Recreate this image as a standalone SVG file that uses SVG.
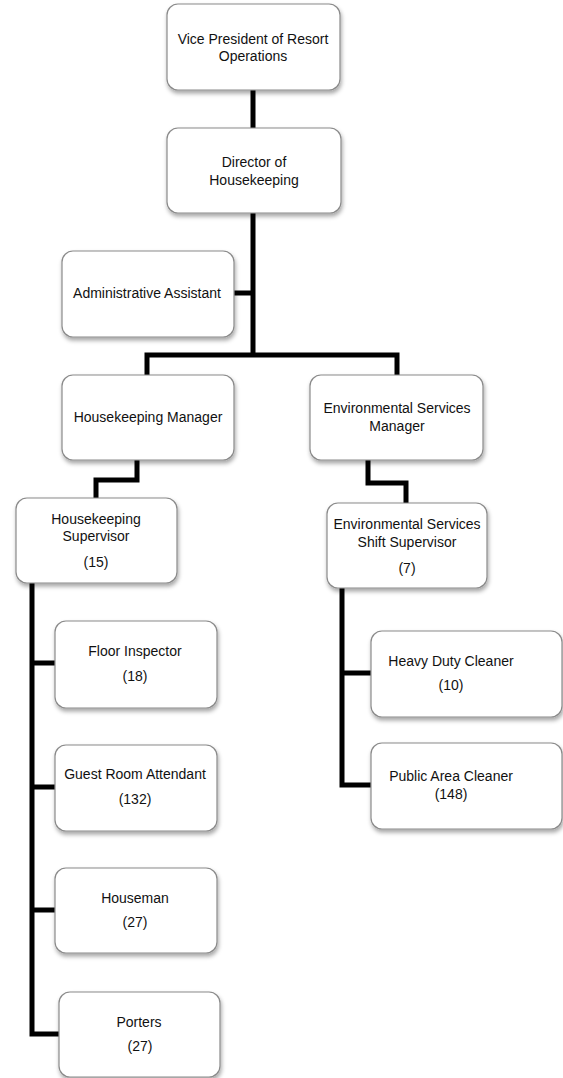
<svg xmlns="http://www.w3.org/2000/svg" width="563" height="1078" viewBox="0 0 563 1078">
<defs>
<filter id="sh" x="-10%" y="-10%" width="125%" height="130%">
<feDropShadow dx="1" dy="3" stdDeviation="2" flood-color="#000" flood-opacity="0.35"/>
</filter>
</defs>
<style>
.box{fill:#fff;stroke:#8a8a8a;stroke-width:1.2;filter:url(#sh)}
text{font-family:"Liberation Sans",Arial,sans-serif;font-size:14px;fill:#111;text-anchor:middle}
.c{fill:none;stroke:#000;stroke-width:5;stroke-linejoin:miter}
</style>
<rect width="563" height="1078" fill="#fff"/>
<g id="connectors">
<path class="c" d="M253 90 V128"/>
<path class="c" d="M253 213 V355"/>
<path class="c" d="M234 293 H253"/>
<path class="c" d="M147 375 V355 H397 V375"/>
<path class="c" d="M137 460 V480 H96 V498"/>
<path class="c" d="M368 460 V483 H406 V503"/>
<path class="c" d="M32 583 V1034 H59"/>
<path class="c" d="M32 663 H55 M32 787 H55 M32 910 H55"/>
<path class="c" d="M342 588 V785 H371 M342 673 H371"/>
</g>
<g id="vp"><rect class="box" x="167" y="4" width="173" height="86" rx="11"/><text x="253" y="44">Vice President of Resort</text><text x="253" y="61">Operations</text></g>
<g id="director"><rect class="box" x="167" y="128" width="174" height="85" rx="11"/><text x="254" y="167">Director of</text><text x="254" y="185">Housekeeping</text></g>
<g id="admin"><rect class="box" x="62" y="251" width="172" height="86" rx="11"/><text x="147" y="298">Administrative Assistant</text></g>
<g id="hkmgr"><rect class="box" x="62" y="375" width="172" height="85" rx="11"/><text x="148" y="422">Housekeeping Manager</text></g>
<g id="esmgr"><rect class="box" x="310" y="375" width="173" height="85" rx="11"/><text x="397" y="413">Environmental Services</text><text x="397" y="431">Manager</text></g>
<g id="hksup"><rect class="box" x="16" y="498" width="161" height="85" rx="11"/><text x="96" y="524">Housekeeping</text><text x="96" y="541">Supervisor</text><text x="96" y="567">(15)</text></g>
<g id="essup"><rect class="box" x="327" y="503" width="160" height="85" rx="11"/><text x="407" y="529">Environmental Services</text><text x="407" y="547">Shift Supervisor</text><text x="407" y="573">(7)</text></g>
<g id="floor"><rect class="box" x="55" y="621" width="162" height="87" rx="11"/><text x="135" y="656">Floor Inspector</text><text x="135" y="681">(18)</text></g>
<g id="guest"><rect class="box" x="55" y="745" width="162" height="86" rx="11"/><text x="135" y="779">Guest Room Attendant</text><text x="135" y="804">(132)</text></g>
<g id="houseman"><rect class="box" x="55" y="868" width="162" height="85" rx="11"/><text x="135" y="903">Houseman</text><text x="135" y="927">(27)</text></g>
<g id="porters"><rect class="box" x="59" y="992" width="161" height="85" rx="11"/><text x="139" y="1027">Porters</text><text x="140" y="1051">(27)</text></g>
<g id="heavy"><rect class="box" x="371" y="631" width="191" height="86" rx="11"/><text x="451" y="666">Heavy Duty Cleaner</text><text x="451" y="690">(10)</text></g>
<g id="public"><rect class="box" x="371" y="743" width="191" height="86" rx="11"/><text x="451" y="781">Public Area Cleaner</text><text x="451" y="799">(148)</text></g>
</svg>
